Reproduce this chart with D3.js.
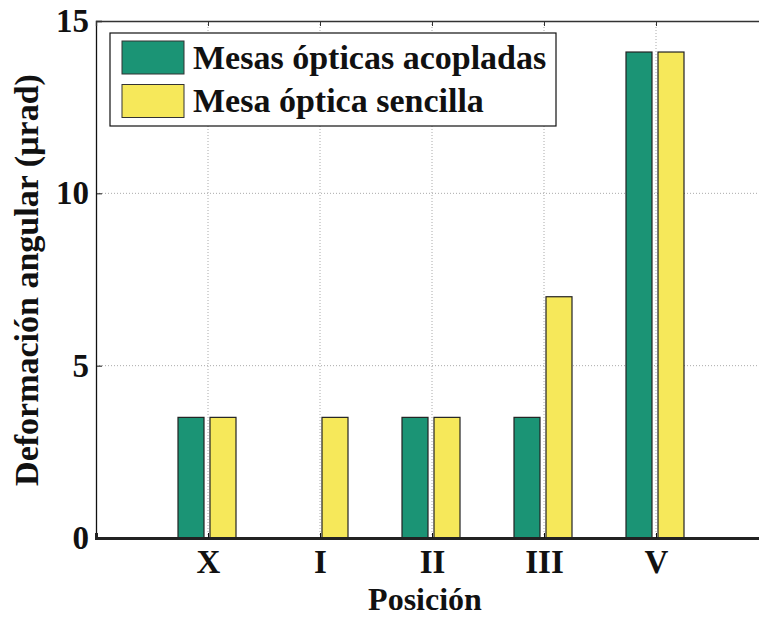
<!DOCTYPE html>
<html><head><meta charset="utf-8">
<script src="https://cdn.jsdelivr.net/npm/d3@7"></script>
<style>
html,body{margin:0;padding:0;background:#fff;}
svg{display:block;}
text{font-family:"Liberation Serif","Times New Roman",serif;font-weight:bold;fill:#111;}
</style></head>
<body>
<svg id="chart" width="759" height="618"></svg>
<script>
const categories = ["X", "I", "II", "III", "V"];
const seriesNames = ["Mesas ópticas acopladas", "Mesa óptica sencilla"];
const acopladas = [3.5, 0, 3.5, 3.5, 14.1];
const sencilla = [3.5, 3.5, 3.5, 7.0, 14.1];
const yTicks = [0, 5, 10, 15];
const colors = ["#1b9475", "#f6e85a"];

(function () {
const svg = d3.select("#chart");
const mLeft = 96, mRight = 768, mTop = 21, mBottom = 538;

const x = d3.scaleLinear().domain([0, categories.length + 1]).range([mLeft, mRight]);
const y = d3.scaleLinear().domain([0, 15]).range([mBottom, mTop]);
const inner = d3.scaleBand().domain([0, 1]).range([-30, 28]).paddingInner(0.1875).paddingOuter(0);

// grid
const grid = svg.append("g");
grid.selectAll("line.v").data(categories).join("line")
  .attr("x1", (d, i) => x(i + 1)).attr("x2", (d, i) => x(i + 1))
  .attr("y1", mTop).attr("y2", mBottom)
  .attr("stroke", "#aaa").attr("stroke-width", 1).attr("stroke-dasharray", "1,2");
grid.selectAll("line.h").data(yTicks.filter(t => t > 0 && t < 15)).join("line")
  .attr("x1", mLeft).attr("x2", mRight)
  .attr("y1", d => y(d)).attr("y2", d => y(d))
  .attr("stroke", "#aaa").attr("stroke-width", 1).attr("stroke-dasharray", "1,2");

// bars
const seriesData = [acopladas, sencilla];
seriesData.forEach((vals, s) => {
  svg.append("g").selectAll("rect").data(vals.map((v, i) => ({v, i})).filter(d => d.v > 0)).join("rect")
    .attr("x", d => x(d.i + 1) + inner(s))
    .attr("width", inner.bandwidth())
    .attr("y", d => y(d.v))
    .attr("height", d => y(0) - y(d.v))
    .attr("fill", colors[s])
    .attr("stroke", "#222").attr("stroke-width", 1.2);
});

// axes
const yAxis = d3.axisLeft(y).tickValues(yTicks).tickSize(-6).tickPadding(7).tickFormat(d3.format("d"));
const gy = svg.append("g").attr("transform", `translate(${mLeft},0)`).call(yAxis);
gy.select(".domain").attr("stroke", "#111").attr("stroke-width", 1.3);
gy.selectAll(".tick line").attr("stroke", "#111");
gy.selectAll(".tick text").attr("font-size", 33).attr("font-family", "Liberation Serif").attr("font-weight", "bold").attr("fill", "#111");

const xTickFmt = d => categories[d - 1];
const xAxis = d3.axisBottom(x).tickValues(d3.range(1, categories.length + 1)).tickSize(-5).tickPadding(12).tickFormat(xTickFmt);
const gx = svg.append("g").attr("transform", `translate(0,${mBottom})`).call(xAxis);
gx.select(".domain").attr("stroke", "#222").attr("stroke-width", 3);
gx.selectAll(".tick line").attr("stroke", "#111");
gx.selectAll(".tick text").attr("font-size", 33).attr("font-family", "Liberation Serif").attr("font-weight", "bold").attr("fill", "#111");

const xTop = d3.axisTop(x).tickValues(d3.range(1, categories.length + 1)).tickSize(-5).tickFormat("");
const gt = svg.append("g").attr("transform", `translate(0,${mTop})`).call(xTop);
gt.select(".domain").attr("stroke", "#333").attr("stroke-width", 1.3);
gt.selectAll(".tick line").attr("stroke", "#333");

// axis titles
svg.append("text").attr("x", 425).attr("y", 610).attr("text-anchor", "middle")
  .attr("font-size", 32).text("Posición");
svg.append("text").attr("transform", `translate(38,280) rotate(-90)`)
  .attr("text-anchor", "middle").attr("font-size", 34).text("Deformación angular (µrad)");

// legend
const lg = svg.append("g");
lg.append("rect").attr("x", 110).attr("y", 33).attr("width", 446).attr("height", 93)
  .attr("fill", "#fff").attr("stroke", "#111").attr("stroke-width", 1.2);
seriesNames.forEach((name, s) => {
  const cy = 57.5 + s * 43.5;
  lg.append("rect").attr("x", 122).attr("y", cy - 16.5).attr("width", 62).attr("height", 33)
    .attr("fill", colors[s]).attr("stroke", "#333").attr("stroke-width", 1);
  lg.append("text").attr("x", 193).attr("y", cy + 11).attr("font-size", 34).text(name);
});
})();
</script>
</body></html>
